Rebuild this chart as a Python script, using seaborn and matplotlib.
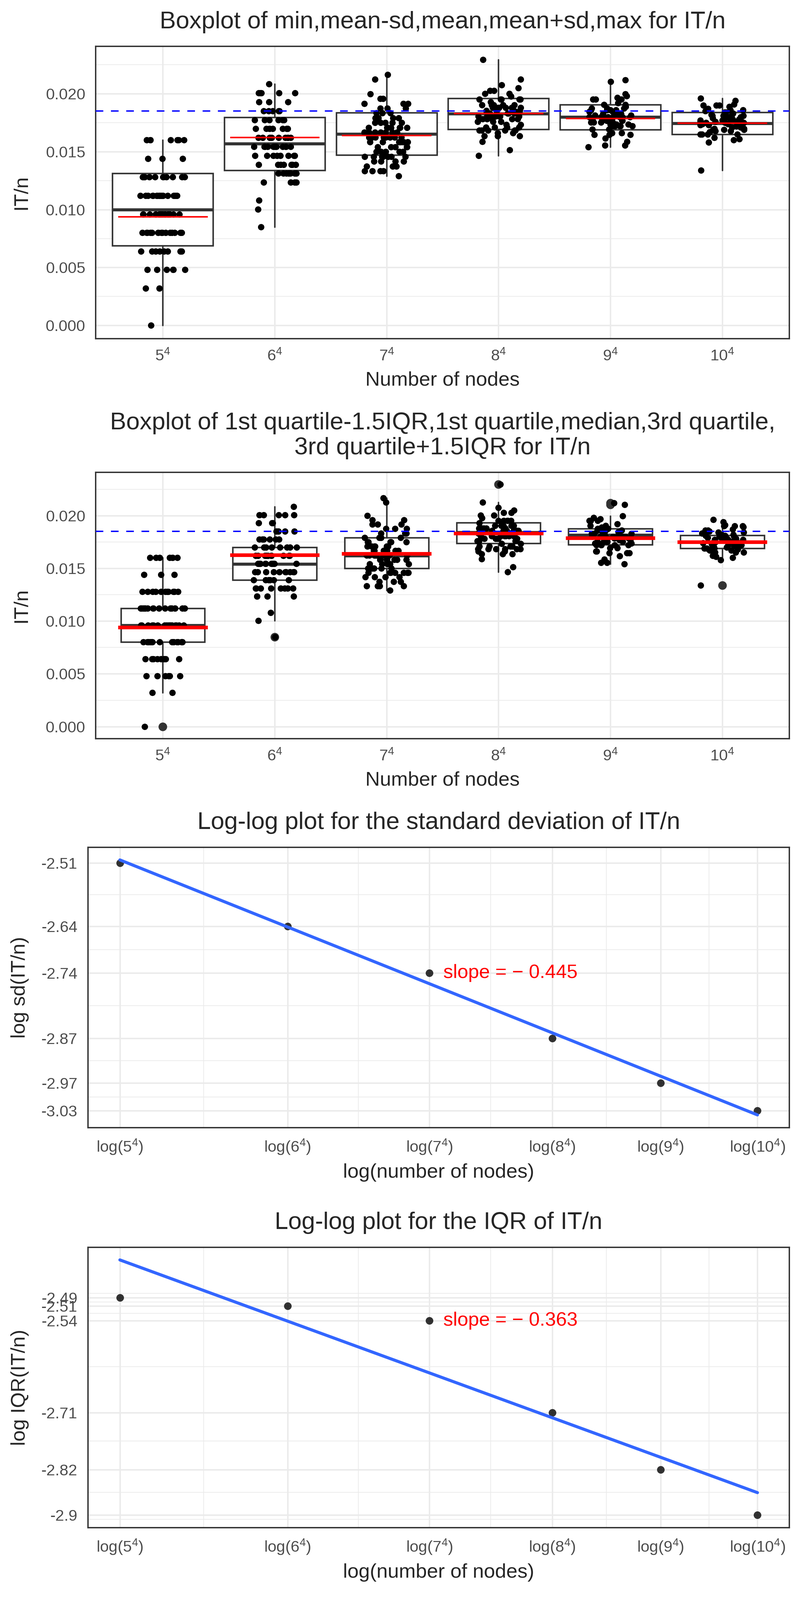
import numpy as np
import pandas as pd
import seaborn as sns
import matplotlib.pyplot as plt

# number of nodes n = k^4
k_vals = [5, 6, 7, 8, 9, 10]
n_vals = [625, 1296, 2401, 4096, 6561, 10000]

# IT values observed for each n, and how many runs gave that value
it_625 = [0, 2, 3, 4, 5, 6, 7, 8, 9, 10]
cnt_625 = [1, 2, 6, 8, 15, 17, 17, 12, 3, 7]
it_1296 = [11, 13, 14, 16, 17, 18, 19, 20, 21, 22, 23, 24, 25, 26, 27]
cnt_1296 = [1, 1, 1, 4, 8, 7, 10, 11, 10, 8, 6, 5, 3, 5, 1]
it_2401 = [31, 32, 33, 34, 35, 36, 37, 38, 39, 40, 41, 42, 43, 44, 45, 46, 47, 48, 51, 52]
cnt_2401 = [1, 4, 3, 4, 7, 5, 5, 7, 9, 7, 7, 5, 7, 3, 3, 3, 2, 1, 1, 1]
it_4096 = [60, 62, 65, 67, 68, 69, 70, 71, 72, 73, 74, 75, 76, 77, 78, 79, 80, 81, 82, 83,
           84, 85, 87, 94]
cnt_4096 = [1, 1, 1, 3, 2, 6, 4, 2, 3, 5, 8, 4, 7, 7, 5, 1, 5, 1, 2, 2, 1, 1, 1, 1]
it_6561 = [101, 102, 104, 106, 108, 109, 111, 113, 114, 115, 116, 117, 118, 119, 120, 121,
           122, 123, 124, 125, 126, 128, 129, 130, 131, 138, 139]
cnt_6561 = [1, 2, 1, 1, 3, 2, 2, 5, 3, 4, 4, 3, 8, 3, 4, 2, 4, 3, 1, 2, 1, 3, 1, 1, 1, 1, 1]
it_10000 = [134, 158, 160, 161, 162, 165, 167, 168, 169, 170, 171, 172, 173, 174, 175, 176,
            177, 178, 179, 180, 181, 182, 183, 184, 185, 186, 187, 189, 190, 191, 194, 196]
cnt_10000 = [1, 1, 1, 1, 1, 4, 2, 2, 3, 2, 2, 2, 2, 3, 4, 3, 4, 3, 1, 2, 3, 2, 1, 2, 1, 2,
             1, 1, 3, 1, 1, 1]

# top panel box: mean-sd, mean, mean+sd
box_lo = [0.00688, 0.01338, 0.01471, 0.01693, 0.01691, 0.01651]
box_mid = [0.0100, 0.01568, 0.01654, 0.01827, 0.01799, 0.01745]
box_hi = [0.01312, 0.01798, 0.01837, 0.01961, 0.01907, 0.01839]

# second panel box: quartiles
q1_vals = [0.0080, 0.01389, 0.0150, 0.01738, 0.01723, 0.01688]
med_vals = [0.0096, 0.0154, 0.0162, 0.0184, 0.01815, 0.01748]
q3_vals = [0.0112, 0.01698, 0.0179, 0.01933, 0.01875, 0.01813]

# red level per n, blue dashed reference
red_vals = [0.0094, 0.01625, 0.0164, 0.0183, 0.01787, 0.01748]
ref_level = 0.0185

# log-log panels
log_sd = [-2.506, -2.639, -2.737, -2.874, -2.968, -3.026]
log_iqr = [-2.494, -2.510, -2.537, -2.710, -2.817, -2.902]

GRID = "#EBEBEB"
DARK = "#333333"

sns.set_style("white")
plt.rcParams["font.family"] = ["Liberation Sans", "DejaVu Sans"]
plt.rcParams["mathtext.fontset"] = "custom"
plt.rcParams["mathtext.rm"] = "Liberation Sans"
plt.rcParams["mathtext.it"] = "Liberation Sans:italic"
plt.rcParams["mathtext.bf"] = "Liberation Sans:bold"

order = [f"{k}^4" for k in k_vals]
frames = []
for k, n, it, c in zip(k_vals, n_vals,
                       [it_625, it_1296, it_2401, it_4096, it_6561, it_10000],
                       [cnt_625, cnt_1296, cnt_2401, cnt_4096, cnt_6561, cnt_10000]):
    frames.append(pd.DataFrame({"nodes": f"{k}^4", "itn": np.repeat(it, c) / n}))
df = pd.concat(frames, ignore_index=True)
groups = [df.loc[df["nodes"] == g, "itn"].to_numpy() for g in order]


def gg_minor(b, lo, hi):
    # ggplot2 style minor breaks: midpoints, extended once past each end
    b = list(b)
    bd = b[1] - b[0]
    if lo < min(b):
        b = [b[0] - bd] + b
    if hi > max(b):
        b = b + [b[-1] + bd]
    b = np.array(b)
    mids = (b[:-1] + b[1:]) / 2
    return [m for m in mids if lo <= m <= hi]


def style(ax):
    for s in ax.spines.values():
        s.set_visible(True)
        s.set_color(DARK)
        s.set_linewidth(1.0)
    ax.tick_params(which="major", length=4.1, width=1.0, color=DARK,
                   labelcolor="#4D4D4D", labelsize=11.4, pad=3.4)
    ax.tick_params(which="minor", length=0)
    ax.grid(which="major", color=GRID, lw=1.1)
    ax.grid(which="minor", color=GRID, lw=0.55)
    ax.set_axisbelow(True)


def box_panel(ax, stats, width, red_lw, title):
    ax.bxp(stats, positions=range(6), widths=width, showcaps=False, patch_artist=True,
           manage_ticks=False, zorder=2,
           boxprops=dict(facecolor="white", edgecolor=DARK, linewidth=1.1),
           whiskerprops=dict(color=DARK, linewidth=1.1),
           medianprops=dict(color=DARK, linewidth=2.2),
           flierprops=dict(marker="o", markerfacecolor=DARK, markeredgecolor="none",
                           markersize=6.2))
    sns.stripplot(data=df, x="nodes", y="itn", order=order, jitter=0.2, color="black",
                  size=4.6, linewidth=0, ax=ax, zorder=3)
    pos = np.arange(6)
    ax.hlines(red_vals, pos - 0.4, pos + 0.4, color="red", lw=red_lw, zorder=4)
    ax.axhline(ref_level, color="blue", lw=1.0, ls=(0, (5.5, 5.5)), zorder=5)

    ymin, ymax = df["itn"].min(), df["itn"].max()
    pad = 0.05 * (ymax - ymin)
    lo, hi = ymin - pad, ymax + pad
    ax.set_ylim(lo, hi)
    ax.set_xlim(-0.6, 5.6)
    major = [0.0, 0.005, 0.010, 0.015, 0.020]
    ax.set_yticks(major)
    ax.set_yticklabels([f"{v:.3f}" for v in major])
    ax.set_yticks(gg_minor(major, lo, hi), minor=True)
    ax.set_xticks(pos)
    ax.set_xticklabels([rf"$\mathregular{{{k}^{{4}}}}$" for k in k_vals])
    style(ax)
    ax.grid(axis="x", which="major", color=GRID, lw=1.1)
    ax.set_xlabel("Number of nodes", fontsize=14.5, labelpad=5)
    ax.set_ylabel("IT/n", fontsize=14.5, labelpad=11)
    ax.set_title(title, fontsize=17.5, pad=13, linespacing=1.15)


def fmt_r(v):
    s = f"{v:.2f}".rstrip("0").rstrip(".")
    return s


def loglog_panel(ax, yvals, ylabel, title):
    x = np.log10(n_vals)
    y = np.array(yvals)
    sns.regplot(x=x, y=y, ci=None, ax=ax,
                scatter_kws=dict(s=30, color="black", linewidths=0, zorder=2),
                line_kws=dict(color="#3366FF", lw=2.2, zorder=3))
    slope, icpt = np.polyfit(x, y, 1)
    fit = icpt + slope * x
    ylo, yhi = min(y.min(), fit.min()), max(y.max(), fit.max())
    ypad = 0.05 * (yhi - ylo)
    xpad = 0.05 * (x.max() - x.min())
    xlo, xhi = x.min() - xpad, x.max() + xpad
    ax.set_xlim(xlo, xhi)
    ax.set_ylim(ylo - ypad, yhi + ypad)
    ax.set_xticks(x)
    ax.set_xticklabels([rf"log$\mathregular{{({k}^{{4}})}}$" for k in k_vals])
    ax.set_xticks(gg_minor(list(x), xlo, xhi), minor=True)
    ax.set_yticks(y)
    ax.set_yticklabels([fmt_r(v) for v in y])
    ax.set_yticks(gg_minor(list(y), ylo - ypad, yhi + ypad), minor=True)
    sign = "\u2212 " if slope < 0 else ""
    ax.annotate(f"slope = {sign}{abs(slope):.3f}", xy=(x[2], y[2]), xytext=(10, 0),
                textcoords="offset points", color="red", fontsize=14,
                va="center", ha="left")
    style(ax)
    ax.set_xlabel("log(number of nodes)", fontsize=14.5, labelpad=5)
    ax.set_ylabel(ylabel, fontsize=14.5, labelpad=9)
    ax.set_title(title, fontsize=17.5, pad=13)


# box statistics
stats1, stats2 = [], []
for i, vals in enumerate(groups):
    stats1.append(dict(med=box_mid[i], q1=box_lo[i], q3=box_hi[i],
                       whislo=vals.min(), whishi=vals.max(), fliers=[]))
    iqr = q3_vals[i] - q1_vals[i]
    lo_f = q1_vals[i] - 1.5 * iqr - 1e-9
    hi_f = q3_vals[i] + 1.5 * iqr + 1e-9
    inside = vals[(vals >= lo_f) & (vals <= hi_f)]
    stats2.append(dict(med=med_vals[i], q1=q1_vals[i], q3=q3_vals[i],
                       whislo=inside.min(), whishi=inside.max(),
                       fliers=vals[(vals < lo_f) | (vals > hi_f)]))

fig = plt.figure(figsize=(8, 16), dpi=300)
ax1 = fig.add_axes([0.1196, 0.78833, 0.8671, 0.18271])
ax2 = fig.add_axes([0.1196, 0.53833, 0.8671, 0.16646])
ax3 = fig.add_axes([0.11, 0.29521, 0.87667, 0.17531])
ax4 = fig.add_axes([0.11, 0.04521, 0.87667, 0.17531])

box_panel(ax1, stats1, 0.9, 1.1, "Boxplot of min,mean-sd,mean,mean+sd,max for IT/n")
box_panel(ax2, stats2, 0.75, 2.6,
          "Boxplot of 1st quartile-1.5IQR,1st quartile,median,3rd quartile,\n"
          "3rd quartile+1.5IQR for IT/n")
loglog_panel(ax3, log_sd, "log sd(IT/n)", "Log-log plot for the standard deviation of IT/n")
loglog_panel(ax4, log_iqr, "log IQR(IT/n)", "Log-log plot for the IQR of IT/n")

fig.savefig("out.png", dpi=300)
